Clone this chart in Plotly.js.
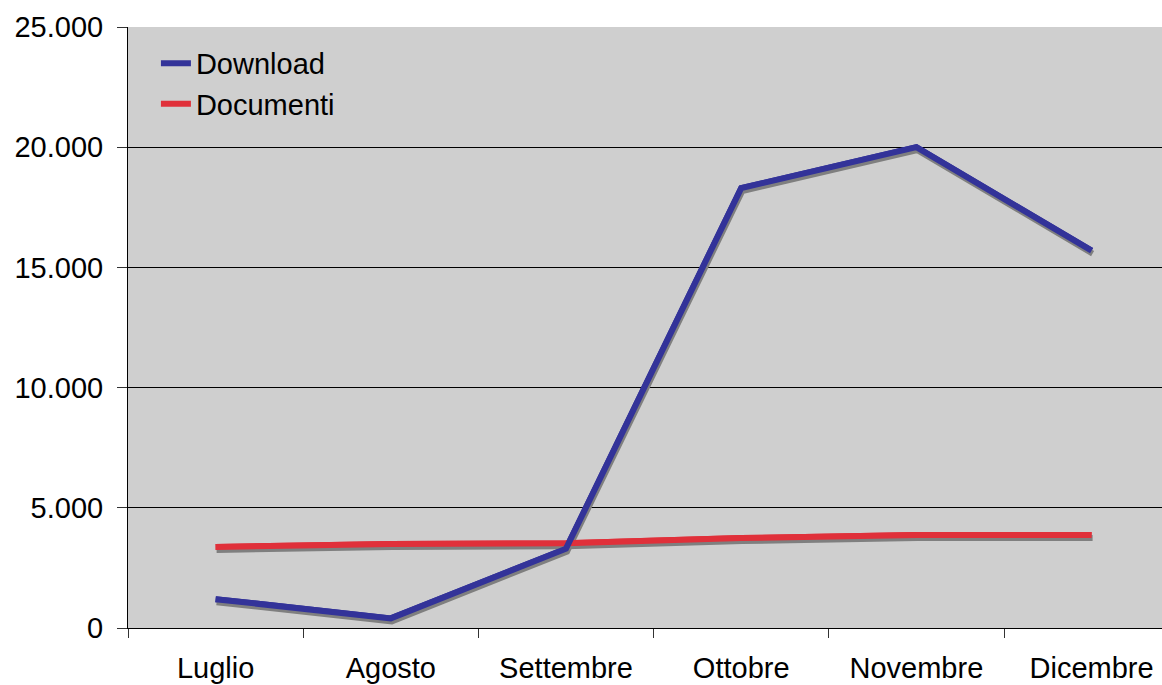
<!DOCTYPE html>
<html>
<head>
<meta charset="utf-8">
<script src="https://cdn.plot.ly/plotly-3.0.1.min.js"></script>
<style>html,body{margin:0;padding:0;background:#fff;}#chart{width:1162px;height:685px;}</style>
</head>
<body>
<div id="chart"></div>
<script>
const months = ["Luglio", "Agosto", "Settembre", "Ottobre", "Novembre", "Dicembre"];
const download = [1200, 400, 3300, 18300, 20000, 15700];
const documenti = [3370, 3490, 3530, 3740, 3870, 3870];

const W = 1162, H = 685;
const L = 128, R = 0, T = 27, B = 57;
const plotW = W - L - R, plotH = H - T - B;
const yMax = 25000;
const catW = 175.2;
const xr = [-0.5, -0.5 + plotW / catW];
const sdx = 1, sdy = 3; // shadow offset px
const xr2 = [xr[0] - sdx / catW, xr[1] - sdx / catW];
const yr2 = [sdy * yMax / plotH, yMax + sdy * yMax / plotH];

const blue = "#333399", red = "#e0303a", shadow = "#7f7f7f";
const lw = 6;

function line(y, color, axes, name, show) {
  return {x: months, y: y, type: "scatter", mode: "lines", name: name,
    showlegend: show, hoverinfo: "skip",
    line: {color: color, width: lw}, xaxis: axes[0], yaxis: axes[1]};
}

const data = [
  line(download, blue, ["x", "y"], "Download", true),
  line(documenti, red, ["x", "y"], "Documenti", true),
  line(documenti, shadow, ["x2", "y2"], "s2", false),
  line(download, shadow, ["x2", "y2"], "s1", false),
  line(documenti, red, ["x3", "y3"], "Documenti", false),
  line(download, blue, ["x3", "y3"], "Download", false)
];

const font = {family: "Liberation Sans, Arial, sans-serif", size: 29, color: "#000"};
const hidden = {type: "category", showgrid: false, showline: false, showticklabels: false, ticks: "", zeroline: false};

const layout = {
  width: W, height: H,
  margin: {l: L, r: R, t: T, b: B, pad: 0},
  paper_bgcolor: "#ffffff",
  plot_bgcolor: "#cfcfcf",
  separators: ",.",
  font: font,
  showlegend: true,
  legend: {x: 0.027, y: 0.982, xanchor: "left", yanchor: "top",
    bgcolor: "rgba(0,0,0,0)", font: font, tracegroupgap: 0, itemwidth: 30},
  xaxis: {type: "category", range: xr, tickson: "boundaries", ticks: "outside",
    ticklen: 9, tickcolor: "#333", tickwidth: 1, showgrid: false,
    showline: true, linecolor: "#000", linewidth: 1, zeroline: false,
    tickfont: font, ticklabelstandoff: 14},
  yaxis: {range: [0, yMax], dtick: 5000, tickformat: ",d", ticks: "outside",
    ticklen: 10, tickcolor: "#333", tickwidth: 1, showgrid: true,
    gridcolor: "#000", gridwidth: 1, showline: true, linecolor: "#000",
    linewidth: 1, zeroline: false, tickfont: font, ticklabelstandoff: 8},
  xaxis2: Object.assign({}, hidden, {overlaying: "x", range: xr2}),
  yaxis2: {overlaying: "y", range: yr2, showgrid: false, showline: false, showticklabels: false, ticks: "", zeroline: false},
  xaxis3: Object.assign({}, hidden, {overlaying: "x", range: xr}),
  yaxis3: {overlaying: "y", range: [0, yMax], showgrid: false, showline: false, showticklabels: false, ticks: "", zeroline: false}
};

Plotly.newPlot("chart", data, layout, {displayModeBar: false, staticPlot: true});
</script>
</body>
</html>
